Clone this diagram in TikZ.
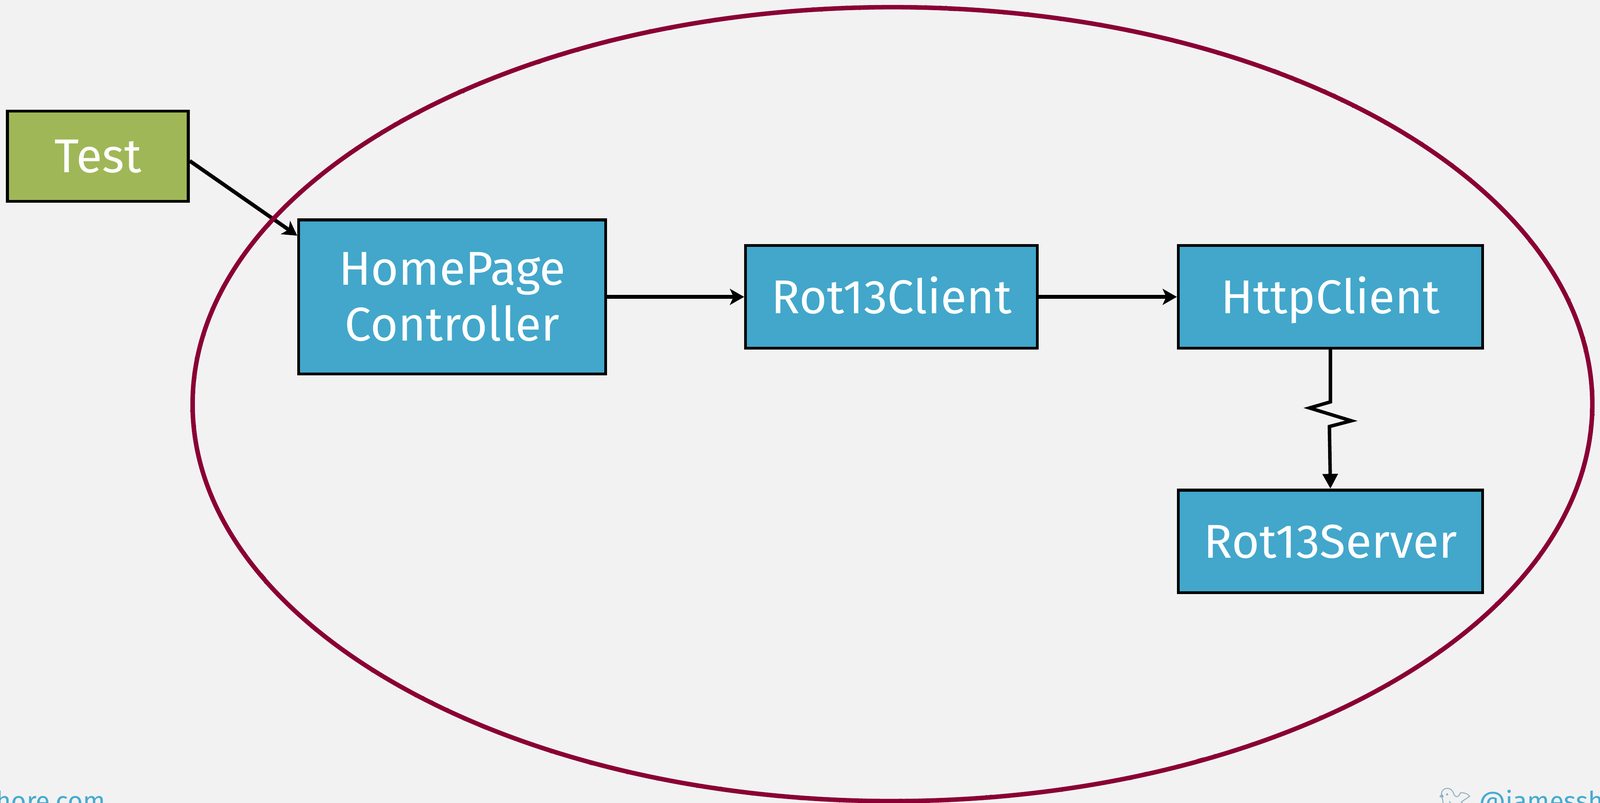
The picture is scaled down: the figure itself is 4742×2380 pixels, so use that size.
\documentclass[tikz,border=0pt]{standalone}
\usepackage{fontspec}
\setmainfont{Fira Sans}
\newfontfamily\emojifont{Noto Emoji}
\usetikzlibrary{arrows.meta,calc,decorations.pathmorphing}
\definecolor{bgc}{HTML}{F2F2F2}
\definecolor{boxblue}{HTML}{42A7CB}
\definecolor{testgreen}{HTML}{A0B757}
\definecolor{ellc}{HTML}{8A0034}
\definecolor{linkblue}{HTML}{46ABD0}
\definecolor{birdc}{HTML}{8FB3C2}
\tikzset{
  box/.style={draw=black, line width=2.4pt, text=white, align=center, inner sep=0pt,
    font=\fontsize{40}{47.2}\selectfont},
  oneline/.style={text height=27.6pt, text depth=0pt},
  arr/.style={line width=3.2pt, -{Stealth[length=12pt,width=13.5pt,inset=3pt]}},
  zig/.style={line width=2.9pt, line join=miter, -{Triangle[length=12.5pt,width=12.5pt]}},
  foot/.style={inner sep=0pt, text=linkblue, font=\fontsize{22}{26}\selectfont}
}
\begin{document}
\begin{tikzpicture}[x=0.01cm,y=-0.01cm]
\fill[bgc] (0,0) rectangle (4742,2380);
\useasboundingbox (0,0) rectangle (4742,2380);
\clip (0,0) rectangle (4742,2380);

\node[box, oneline, fill=testgreen, minimum width=5.36cm, minimum height=2.67cm] (test) at (290,463) {Test};
\node[box, fill=boxblue, minimum width=9.09cm, minimum height=4.56cm] (home) at (1340,880) {HomePage\\Controller};
\node[box, oneline, fill=boxblue, minimum width=8.64cm, minimum height=3.04cm] (rotc) at (2642,880) {Rot13Client};
\node[box, oneline, fill=boxblue, minimum width=9.01cm, minimum height=3.04cm] (http) at (3943,880) {HttpClient};
\node[box, oneline, fill=boxblue, minimum width=9.01cm, minimum height=3.04cm] (rots) at (3943,1605) {Rot13Server};

\draw[arr] ($(test.east)+(0,14)$) -- ($(home.north west)+(0,51)$);
\draw[arr] (home.east) -- (rotc.west);
\draw[arr] (rotc.east) -- (http.west);
\draw[zig] (http.south) -- ++(0,155) -- ++(-62,18) -- ++(124,38) -- ++(-65,17) -- (rots.north);

\draw[ellc, line width=3.8pt] (2645,1198) ellipse [x radius=20.73cm, y radius=11.76cm];
\draw[ellc, line width=1.6pt, decorate, decoration={random steps, segment length=3pt, amplitude=1.3pt}]
  (2645,1198) ellipse [x radius=20.73cm, y radius=11.76cm];

\node[foot, anchor=base east] (site) at (313,2402) {jamesshore.com};
\node[inner sep=0pt, text=birdc, font=\emojifont\fontsize{22}{26}\selectfont, anchor=base east] (bird) at (4362,2402) {🐦};
\node[foot, anchor=base west] (handle) at (4383,2402) {@jamesshore};
\end{tikzpicture}
\end{document}
